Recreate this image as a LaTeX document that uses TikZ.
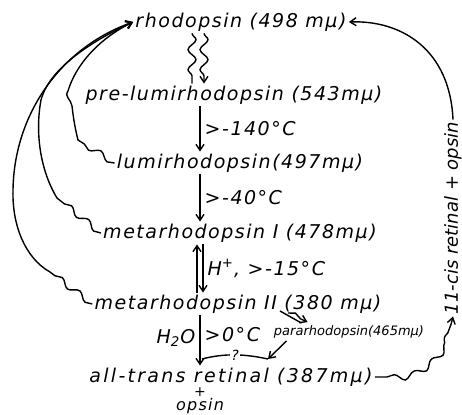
\documentclass[tikz,border=0pt]{standalone}
\usepackage{fontspec}
\newfontfamily\handfont{DejaVu Sans Oblique}[LetterSpace=8]
\newfontfamily\handtight{DejaVu Sans Oblique}
\usetikzlibrary{arrows.meta,decorations.pathmorphing,calc}
\tikzset{
rhstate/.style={font=\handfont\fontsize{9.5}{11}\selectfont,inner sep=1pt,text height=7pt,text depth=2pt},
rhsub/.style={font=\handfont\fontsize{8}{9}\selectfont,inner sep=0pt,anchor=base},
rhcond/.style={font=\handfont\fontsize{9.5}{11}\selectfont,inner sep=2pt},
rhsmall/.style={font=\handtight\fontsize{6.5}{7.5}\selectfont,inner sep=1pt,text height=5pt,text depth=1.5pt},
rhside/.style={font=\handtight\fontsize{9}{10}\selectfont,inner sep=1pt,rotate=90},
rhq/.style={font=\handtight\fontsize{7}{8}\selectfont,fill=white,inner sep=0.8pt},
rhline/.style={line width=0.7pt},
rharr/.style={rhline,-{Straight Barb[length=3pt,width=4pt]}},
rhwave/.style={decoration={snake,amplitude=2pt,segment length=10pt,post length=3pt}},
rhwig/.style={decoration={snake,amplitude=1.5pt,segment length=11pt}}
}
\begin{document}
\begin{tikzpicture}[x=0.5pt,y=-0.5pt]
\useasboundingbox (0,0) rectangle (462,414);
\coordinate (axis) at (200,0);
\coordinate (axl) at (197,0);
\coordinate (axr) at (203,0);
\coordinate (lightl) at (192,0);
\coordinate (lightr) at (204,0);
% the bleaching sequence
\node[rhstate] (rhodo) at (241,22) {rhodopsin (498 mμ)};
\node[rhstate] (prelumi) at (234,95) {pre-lumirhodopsin (543mμ)};
\node[rhstate] (lumi) at (240,163) {lumirhodopsin(497mμ)};
\node[rhstate] (metaI) at (240,233) {metarhodopsin I (478mμ)};
\node[rhstate] (metaII) at (238,304) {metarhodopsin II (380 mμ)};
\node[rhstate,font=\handfont\fontsize{9.5}{11}\addfontfeature{LetterSpace=12}] (alltrans) at (231,377) {all-trans retinal (387mμ)};
\node[rhsub,font=\handfont\fontsize{7}{8}\selectfont] (plus) at (200,396) {+};
\node[rhsub] (opsin) at (200,410) {opsin};
\node[rhsmall] (para) at (349,332) {pararhodopsin(465mμ)};
\node[rhside] (cis) at (453,218) {11-cis retinal + opsin};
\coordinate (iimark) at (280,311);
\coordinate (qleft) at (202,359);
\coordinate (qright) at (268,359);
% light steps
\draw[rhline,rhwave,decorate] (rhodo.south -| lightl) -- (prelumi.north -| lightl);
\draw[rharr,rhwave,decorate] (rhodo.south -| lightr) -- (prelumi.north -| lightr);
% thermal steps
\draw[rharr] (prelumi.south -| axis) -- node[rhcond,right]{>-140°C} (lumi.north -| axis);
\draw[rharr] (lumi.south -| axis) -- node[rhcond,right]{>-40°C} (metaI.north -| axis);
\draw[rharr] (metaII.north -| axl) -- (metaI.south -| axl);
\draw[rharr] (metaI.south -| axr) -- node[rhcond,right]{H\textsuperscript{+}, >-15°C} (metaII.north -| axr);
\draw[rharr] (metaII.south -| axis) -- node[rhcond,left,pos=0.45]{H\textsubscript{2}O} node[rhcond,right,pos=0.38]{>0°C} (alltrans.north -| axis);
% side branch
\draw[rhline] (iimark) -- ($(para.north west)+(30,0)$);
\draw[rharr] ($(iimark)+(8,2)$) decorate[rhwig]{-- ($(para.north west)+(36,-1)$)};
\draw[rharr] ($(para.south west)+(15,0)$) -- (qright);
\draw[rhline] (qright) .. controls (245,354) and (225,353) .. node[rhq]{?} (qleft);
% photoreversal back to rhodopsin
\draw[rharr] (lumi.west) decorate[rhwig]{-- (78,140)} .. controls (74,124) and (73,114) .. (72,106) .. controls (71,99) and (64,97) .. (68,91) .. controls (76,64) and (100,38) .. (rhodo.west);
\draw[rharr] (metaI.west) decorate[rhwig]{-- (57,198)} .. controls (40,170) and (35,132) .. (41,100) .. controls (50,66) and (98,38) .. (rhodo.west);
\draw[rharr] (metaII.west) decorate[rhwig]{-- (50,272)} .. controls (25,258) and (12,225) .. (13,190) .. controls (14,115) and (60,48) .. (rhodo.west);
% regeneration
\draw[rharr] (alltrans.east) -- ++(12,0) decorate[rhwig]{.. controls (418,380) and (442,350) .. ($(cis.west)+(-2,8)$)} -- (cis.west);
\draw[rharr] (cis.east) .. controls (450,50) and (402,20) .. (rhodo.east);
\end{tikzpicture}
\end{document}
